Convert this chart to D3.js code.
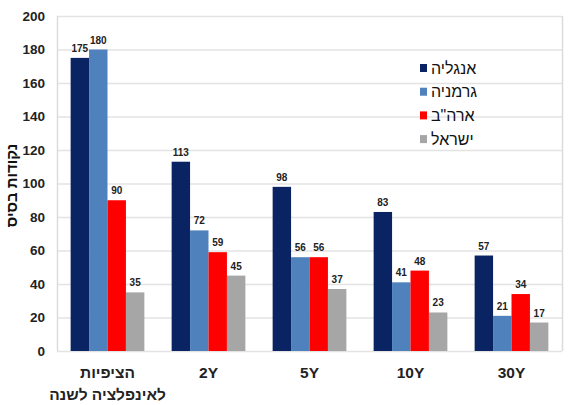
<!DOCTYPE html>
<html lang="he">
<head>
<meta charset="utf-8">
<script src="https://cdn.jsdelivr.net/npm/d3@7"></script>
<style>
  html, body { margin: 0; padding: 0; background: #fff; }
  svg { display: block; }
</style>
</head>
<body>
<svg id="chart" width="573" height="405"></svg>
<script>
// Categories (maturities) and series values, in basis points
const categories = ["infl", "2Y", "5Y", "10Y", "30Y"];
const categoryLabels = [["הציפיות", "לאינפלציה לשנה"], ["2Y"], ["5Y"], ["10Y"], ["30Y"]];
const seriesNames = ["אנגליה", "גרמניה", "ארה\"ב", "ישראל"];
const uk      = [175, 113, 98, 83, 57];
const germany = [180, 72, 56, 41, 21];
const usa     = [90, 59, 56, 48, 34];
const israel  = [35, 45, 37, 23, 17];
const seriesValues = [uk, germany, usa, israel];
const yTicks = [0, 20, 40, 60, 80, 100, 120, 140, 160, 180, 200];
const yTitle = "נקודות בסיס";

const colors = ["#0a2463", "#4f81bd", "#ff0000", "#a6a6a6"];
const sans = "'Liberation Sans', Arial, sans-serif";

const svg = d3.select("#chart");
const margin = { left: 57, right: 11, top: 16, bottom: 54 };
const W = 573, H = 405;

const x = d3.scaleBand()
  .domain(categories)
  .range([margin.left, W - margin.right])
  .paddingInner(0.27)
  .paddingOuter(0.135);

const xs = d3.scaleBand()
  .domain(d3.range(seriesNames.length))
  .range([0, x.bandwidth()]);

const y = d3.scaleLinear()
  .domain([0, 200])
  .range([H - margin.bottom, margin.top]);

// gridlines
svg.append("g")
  .selectAll("line")
  .data(yTicks)
  .join("line")
  .attr("x1", margin.left)
  .attr("x2", W - margin.right)
  .attr("y1", d => y(d) + 0.5)
  .attr("y2", d => y(d) + 0.5)
  .attr("stroke", "#e3e3e3")
  .attr("stroke-width", 1.5);

// plot frame (left and right edges)
svg.append("line")
  .attr("x1", margin.left + 0.5).attr("x2", margin.left + 0.5)
  .attr("y1", y(200)).attr("y2", y(0))
  .attr("stroke", "#dcdcdc").attr("stroke-width", 1.5);
svg.append("line")
  .attr("x1", W - margin.right + 0.5).attr("x2", W - margin.right + 0.5)
  .attr("y1", y(200)).attr("y2", y(0))
  .attr("stroke", "#dcdcdc").attr("stroke-width", 1.5);

// y axis
const yAxis = d3.axisLeft(y).tickValues(yTicks).tickSize(0).tickPadding(12);
const yg = svg.append("g")
  .attr("transform", `translate(${margin.left},0)`)
  .call(yAxis);
yg.select(".domain").remove();
yg.selectAll("text")
  .attr("font-family", sans)
  .attr("font-weight", "bold")
  .attr("font-size", 13.5)
  .attr("fill", "#222");

// y axis title
svg.append("text")
  .attr("transform", `translate(17,${(y(0) + y(200)) / 2 + 2}) rotate(-90)`)
  .attr("text-anchor", "middle")
  .attr("font-family", sans)
  .attr("font-weight", "bold")
  .attr("font-size", 15)
  .attr("fill", "#111")
  .text(yTitle);

// bars
const groups = svg.append("g")
  .selectAll("g")
  .data(categories)
  .join("g")
  .attr("transform", d => `translate(${x(d)},0)`);

groups.selectAll("rect")
  .data((d, i) => seriesValues.map((s, k) => ({ k, v: s[i] })))
  .join("rect")
  .attr("x", d => xs(d.k))
  .attr("width", xs.bandwidth())
  .attr("y", d => y(d.v))
  .attr("height", d => y(0) - y(d.v))
  .attr("fill", d => colors[d.k]);

groups.selectAll("text.val")
  .data((d, i) => seriesValues.map((s, k) => ({ k, v: s[i] })))
  .join("text")
  .attr("class", "val")
  .attr("x", d => xs(d.k) + xs.bandwidth() / 2)
  .attr("y", d => y(d.v) - 6)
  .attr("text-anchor", "middle")
  .attr("font-family", sans)
  .attr("font-weight", "bold")
  .attr("font-size", 10)
  .attr("fill", "#222")
  .text(d => d.v);

// x axis labels
const xg = svg.append("g");
categories.forEach((c, i) => {
  const t = xg.append("text")
    .attr("x", x(c) + x.bandwidth() / 2)
    .attr("y", y(0) + 27)
    .attr("text-anchor", "middle")
    .attr("direction", "rtl")
    .attr("font-family", sans)
    .attr("font-weight", "bold")
    .attr("font-size", 15.5)
    .attr("fill", "#222");
  categoryLabels[i].forEach((line, j) => {
    t.append("tspan")
      .attr("x", x(c) + x.bandwidth() / 2)
      .attr("dy", j === 0 ? 0 : 22)
      .text(line);
  });
});

// legend
const legend = svg.append("g").attr("transform", "translate(420,68)");
seriesNames.forEach((name, k) => {
  const row = legend.append("g").attr("transform", `translate(0,${k * 23.7})`);
  row.append("rect")
    .attr("x", 0).attr("y", -4)
    .attr("width", 7).attr("height", 8)
    .attr("fill", colors[k]);
  row.append("text")
    .attr("x", 11).attr("y", 5.5)
    .attr("text-anchor", "start")
    .attr("font-family", sans)
    .attr("font-size", 16)
    .attr("fill", "#111")
    .text(name);
});
</script>
</body>
</html>
